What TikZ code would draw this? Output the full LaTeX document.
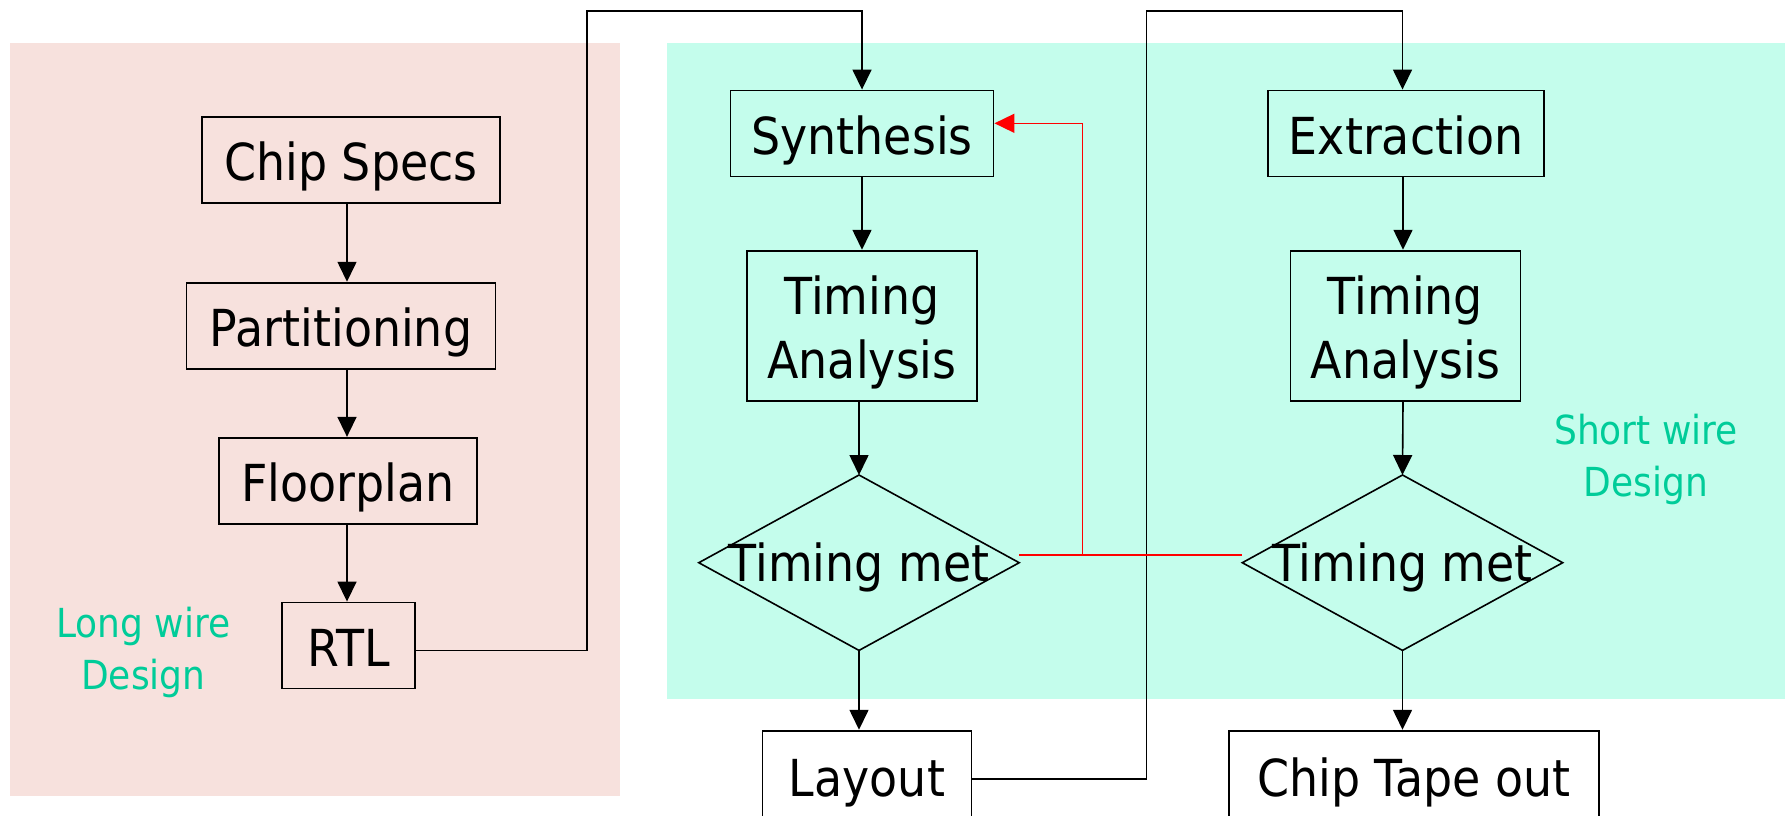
\documentclass[tikz,border=0pt]{standalone}
\usepackage{fontspec}
\setmainfont{DejaVu Sans}[FakeStretch=0.9]
\usetikzlibrary{arrows.meta,calc}
\definecolor{pinkbg}{HTML}{F7E1DD}
\definecolor{cyanbg}{HTML}{C4FDEC}
\definecolor{labgreen}{HTML}{00CC99}
\begin{document}
\begin{tikzpicture}[x=1pt,y=-1pt,
  box/.style={draw=black,line width=1.9pt,rectangle,inner sep=0pt,
    font=\fontsize{51}{64}\selectfont,align=center,text height=41pt,text depth=0pt},
  frame/.style={draw=black,line width=1.9pt,rectangle,inner sep=0pt},
  txt/.style={rectangle,inner sep=0pt,font=\fontsize{51}{64}\selectfont,align=center},
  dia/.style={line width=1.6pt,draw=black,line join=miter},
  lab/.style={text=labgreen,inner sep=0pt,font=\fontsize{40}{52}\selectfont,anchor=base},
  conn/.style={line width=1.6pt,draw=black},
  arr/.style={conn,-{Triangle[length=20pt,width=19pt]}},
  rarr/.style={line width=1.6pt,draw=red,-{Triangle[length=20pt,width=19pt]}},
  rline/.style={line width=1.6pt,draw=red}]
\useasboundingbox (0,0) rectangle (1785,815);
\clip (0,0) rectangle (1785,815);
% backgrounds
\fill[pinkbg] (10.3,42.7) rectangle (620,796);
\fill[cyanbg] (667,42.7) rectangle (1785,699.3);
% left column
\node[box,minimum width=298pt,minimum height=86pt] (specs) at (351,160) {Chip Specs};
\node[box,minimum width=309pt,minimum height=86pt] (part) at (341,325.7) {Partitioning};
\node[box,minimum width=258pt,minimum height=86pt] (floor) at (347.9,480.8) {Floorplan};
\node[box,minimum width=133pt,minimum height=86pt] (rtl) at (348.7,645.5) {RTL};
\coordinate (colA) at (347,0);
% middle column
\node[box,fill=cyanbg,minimum width=263pt,minimum height=86pt] (synth) at (862,133.5) {Synthesis};
\node[frame,fill=cyanbg,minimum width=230pt,minimum height=150pt] (ta1) at (862,325.7) {};
\node[txt] (ta1t) at ([yshift=-7pt]ta1.center) {Timing\\Analysis};
\node[txt,minimum width=320pt,minimum height=175pt,text height=37pt,text depth=0pt] (d1) at (859,562.7) {Timing met};
\draw[dia] (d1.west) -- (d1.north) -- (d1.east) -- (d1.south) -- cycle;
\node[box,fill=white,minimum width=209pt,minimum height=90pt] (layout) at (867,775.7) {Layout};
% right column
\node[box,fill=cyanbg,minimum width=276pt,minimum height=86pt] (extr) at (1406,133.5) {Extraction};
\node[frame,fill=cyanbg,minimum width=230pt,minimum height=150pt] (ta2) at (1405.5,325.7) {};
\node[txt] (ta2t) at ([yshift=-7pt]ta2.center) {Timing\\Analysis};
\node[txt,minimum width=320pt,minimum height=175pt,text height=37pt,text depth=0pt] (d2) at (1402.5,562.7) {Timing met};
\draw[dia] (d2.west) -- (d2.north) -- (d2.east) -- (d2.south) -- cycle;
\node[box,fill=white,minimum width=370pt,minimum height=90pt] (tape) at (1413.8,775.7) {Chip Tape out};
\coordinate (colB) at (1403,0);
% labels
\node[lab] (lw1) at (143.4,637.5) {Long wire};
\node[lab] (lw2) at (143.4,689.5) {Design};
\node[lab] (sw1) at (1646,444) {Short wire};
\node[lab] (sw2) at (1646,496) {Design};
% left column arrows
\draw[arr] (specs.south -| colA) -- (part.north -| colA);
\draw[arr] (part.south -| colA) -- (floor.north -| colA);
\draw[arr] (floor.south -| colA) -- (rtl.north -| colA);
% middle column arrows
\draw[arr] (synth.south) -- (ta1.north);
\draw[arr] (ta1.south -| d1.north) -- (d1.north);
\draw[arr] (d1.south) -- (d1.south |- layout.north);
% right column arrows
\draw[arr] (extr.south -| colB) -- (ta2.north -| colB);
\draw[arr] (ta2.south -| colB) -- (d2.north);
\draw[arr] (d2.south) -- (d2.south |- tape.north);
% long connectors
\coordinate (c1) at (586.7,10.7);
\coordinate (c2) at (1146.6,10.7);
\draw[arr] ([yshift=-4.8pt]rtl.east) -| (c1) -| (synth.north);
\draw[arr] ([yshift=-3pt]layout.east) -| (c2) -| (d2.north |- extr.north);
% red feedback
\coordinate (rj) at (1082.6,554.7);
\draw[rline] ([yshift=8pt]d1.east) -- ([yshift=8pt]d2.west);
\draw[rarr] (rj) |- ([yshift=10.2pt]synth.east);
\end{tikzpicture}
\end{document}
